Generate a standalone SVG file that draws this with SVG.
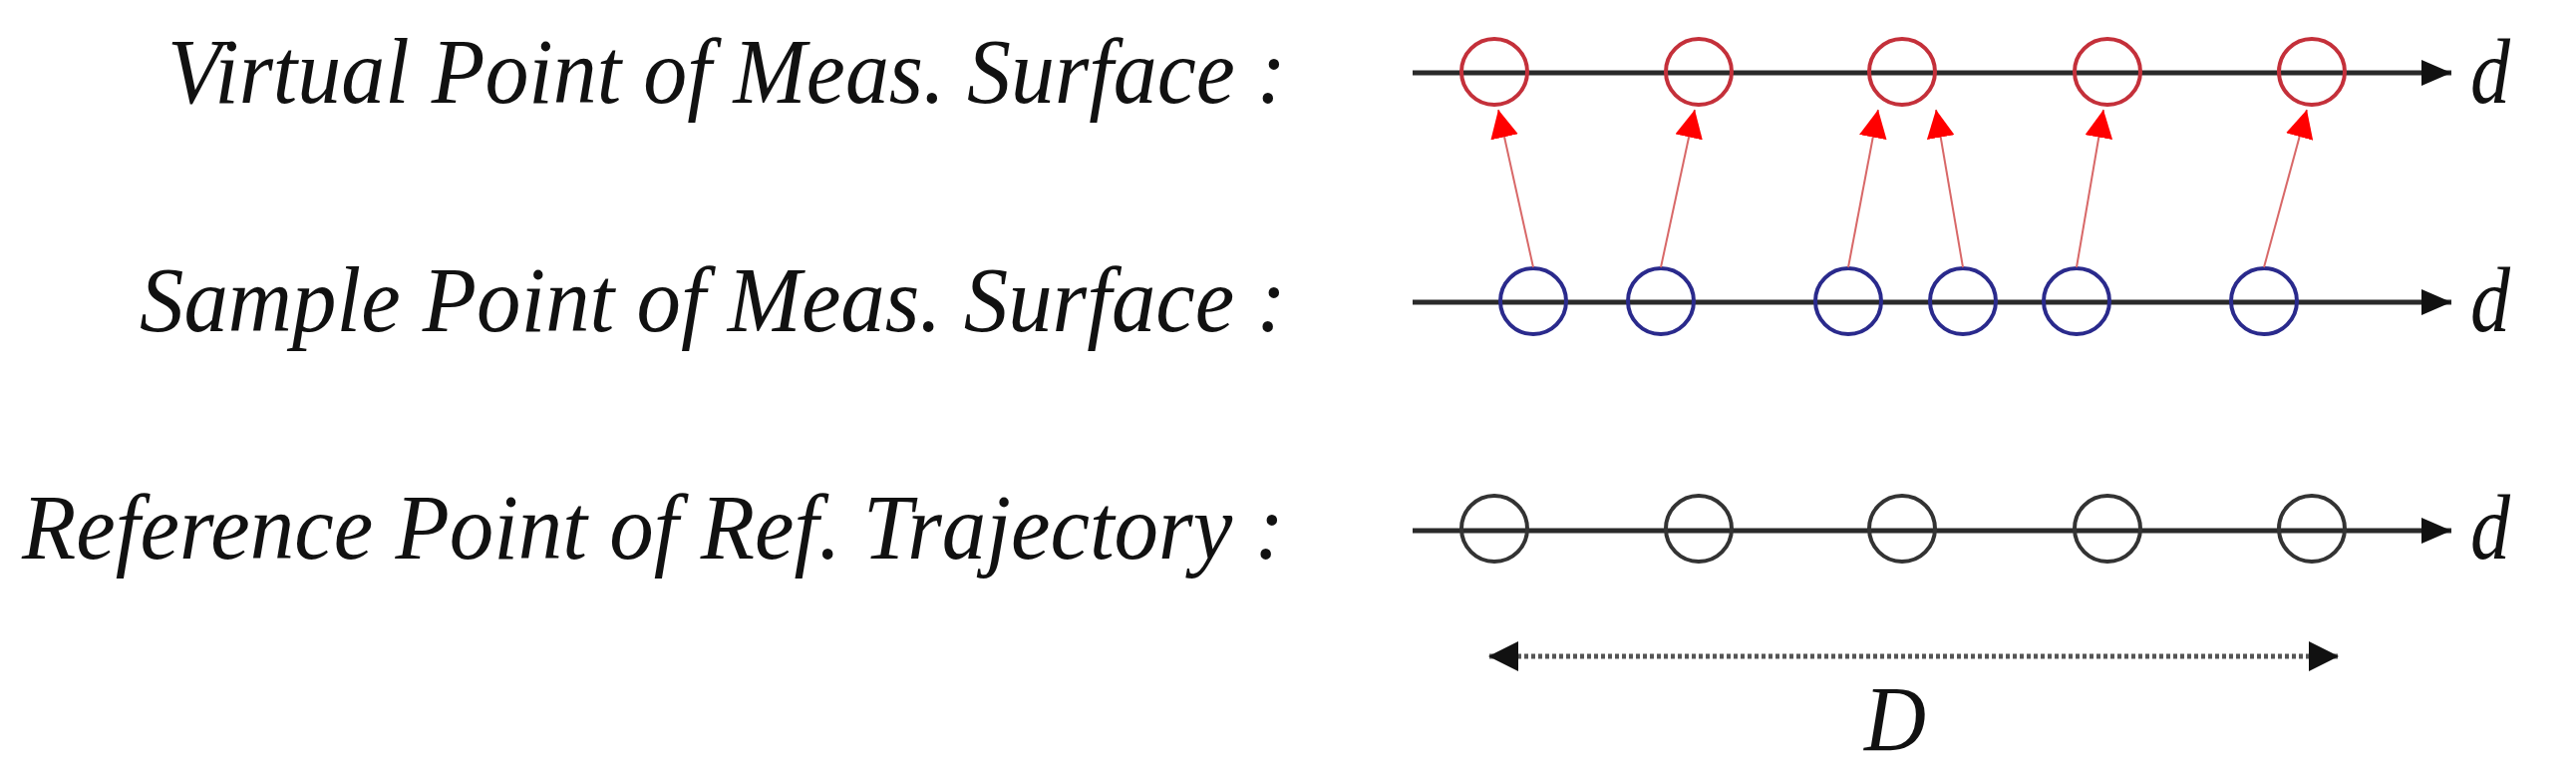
<svg xmlns="http://www.w3.org/2000/svg" width="2584" height="780" viewBox="0 0 2584 780">
<style>
.lbl{font-family:"Liberation Serif","Times New Roman",serif;font-style:italic;font-size:94px;fill:#111}
.axis{stroke:#2a2a2a;stroke-width:5;fill:none}
.red{stroke:#c4303a;stroke-width:4;fill:none}
.blue{stroke:#2a2a8c;stroke-width:4;fill:none}
.blk{stroke:#333;stroke-width:4;fill:none}
.conn{stroke:#d86868;stroke-width:2;fill:none}
.dim{stroke:#555;stroke-width:5;stroke-dasharray:4 3;fill:none}
</style>
<defs>
<marker id="ax" markerUnits="userSpaceOnUse" markerWidth="32" markerHeight="26" refX="30" refY="13" orient="auto">
<path d="M0,0 L30,13 L0,26 Z" fill="#111"/>
</marker>
<marker id="ra" markerUnits="userSpaceOnUse" markerWidth="30" markerHeight="28" refX="28" refY="14" orient="auto">
<path d="M0,0 L28,14 L0,28 Z" fill="#ff0000"/>
</marker>
<marker id="dm" markerUnits="userSpaceOnUse" markerWidth="32" markerHeight="32" refX="29" refY="15" orient="auto-start-reverse">
<path d="M0,0 L30,15 L0,30 Z" fill="#111"/>
</marker>
</defs>
<g id="labels">
<text id="lbl-virtual" class="lbl" x="168" y="103" textLength="1122" lengthAdjust="spacingAndGlyphs">Virtual Point of Meas. Surface :</text>
<text id="lbl-sample" class="lbl" x="140" y="332" textLength="1150" lengthAdjust="spacingAndGlyphs">Sample Point of Meas. Surface :</text>
<text id="lbl-ref" class="lbl" x="22" y="560" textLength="1266" lengthAdjust="spacingAndGlyphs">Reference Point of Ref. Trajectory :</text>
<text class="lbl" x="2478" y="103" font-size="92" textLength="40" lengthAdjust="spacingAndGlyphs">d</text>
<text class="lbl" x="2478" y="332" font-size="92" textLength="40" lengthAdjust="spacingAndGlyphs">d</text>
<text class="lbl" x="2478" y="560" font-size="92" textLength="40" lengthAdjust="spacingAndGlyphs">d</text>
<text class="lbl" x="1870" y="752" font-size="98" textLength="62" lengthAdjust="spacingAndGlyphs">D</text>
</g>
<g id="axes">
<line class="axis" x1="1417" y1="73" x2="2459" y2="73" marker-end="url(#ax)"/>
<line class="axis" x1="1417" y1="303" x2="2459" y2="303" marker-end="url(#ax)"/>
<line class="axis" x1="1417" y1="532" x2="2459" y2="532" marker-end="url(#ax)"/>
</g>
<g id="virtual-points">
<circle class="red" cx="1499" cy="72" r="33"/>
<circle class="red" cx="1704" cy="72" r="33"/>
<circle class="red" cx="1908" cy="72" r="33"/>
<circle class="red" cx="2114" cy="72" r="33"/>
<circle class="red" cx="2319" cy="72" r="33"/>
</g>
<g id="sample-points">
<circle class="blue" cx="1538" cy="302" r="33"/>
<circle class="blue" cx="1666" cy="302" r="33"/>
<circle class="blue" cx="1854" cy="302" r="33"/>
<circle class="blue" cx="1969" cy="302" r="33"/>
<circle class="blue" cx="2083" cy="302" r="33"/>
<circle class="blue" cx="2271" cy="302" r="33"/>
</g>
<g id="reference-points">
<circle class="blk" cx="1499" cy="530" r="33"/>
<circle class="blk" cx="1704" cy="530" r="33"/>
<circle class="blk" cx="1908" cy="530" r="33"/>
<circle class="blk" cx="2114" cy="530" r="33"/>
<circle class="blk" cx="2319" cy="530" r="33"/>
</g>
<g id="connectors">
<line class="conn" x1="1538" y1="268" x2="1503" y2="110" marker-end="url(#ra)"/>
<line class="conn" x1="1666" y1="268" x2="1700" y2="110" marker-end="url(#ra)"/>
<line class="conn" x1="1854" y1="268" x2="1884" y2="110" marker-end="url(#ra)"/>
<line class="conn" x1="1969" y1="268" x2="1942" y2="110" marker-end="url(#ra)"/>
<line class="conn" x1="2083" y1="268" x2="2110" y2="110" marker-end="url(#ra)"/>
<line class="conn" x1="2271" y1="268" x2="2314" y2="110" marker-end="url(#ra)"/>
<line class="dim" x1="1494" y1="658" x2="2345" y2="658" marker-start="url(#dm)" marker-end="url(#dm)"/>
</g>
</svg>
